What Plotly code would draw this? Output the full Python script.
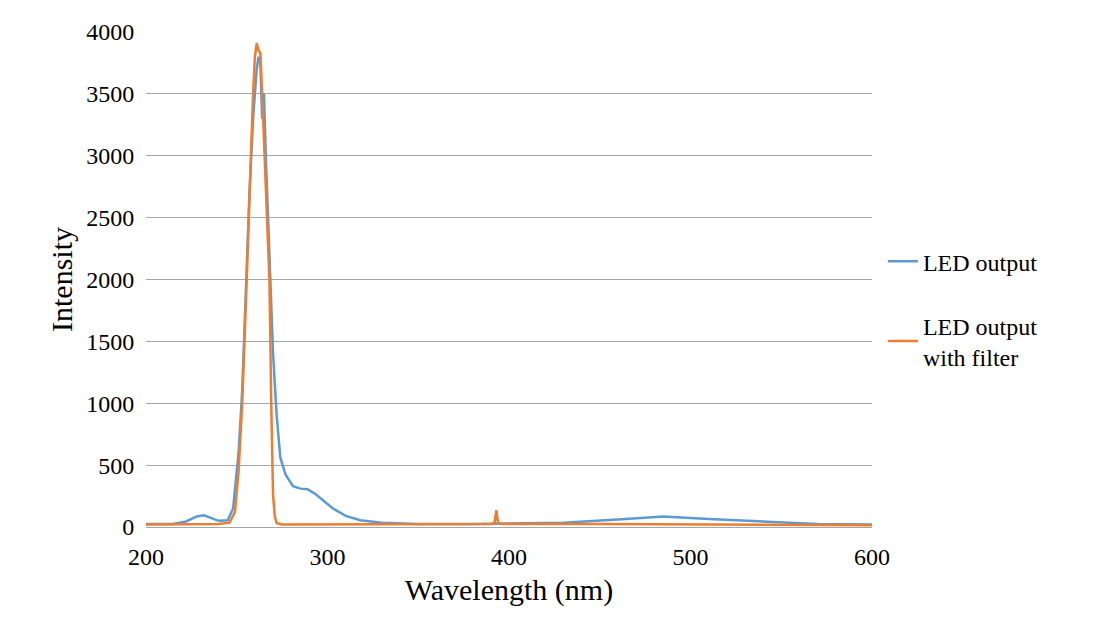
import plotly.graph_objects as go

# LED output (blue)
wl_led = [200, 215, 222, 228, 232, 236, 240, 245, 248, 251, 253, 255, 257, 259, 261, 262, 263, 264, 265, 266,
          268, 270, 272, 274, 277, 281, 285, 289, 293, 298, 303, 310, 318, 330, 350, 380, 400, 430, 460, 485,
          510, 540, 570, 600]
int_led = [25, 25, 45, 85, 95, 70, 50, 55, 150, 600, 1100, 1900, 2700, 3300, 3700, 3800, 3750, 3300, 3500, 3000,
           2200, 1400, 900, 560, 420, 330, 310, 305, 270, 210, 150, 90, 55, 35, 25, 25, 30, 35, 60, 85,
           65, 45, 25, 20]

# LED output with filter (orange)
wl_filt = [200, 220, 240, 246, 249, 251, 253, 255, 257, 259, 260, 261, 262, 263, 264, 266, 268, 269, 270, 271,
           272, 275, 300, 350, 390, 392, 393, 394, 396, 450, 500, 550, 600]
int_filt = [20, 22, 25, 35, 120, 450, 1000, 1800, 2700, 3500, 3800, 3910, 3850, 3830, 3500, 2800, 2000, 1000, 260, 80,
            30, 20, 20, 20, 25, 30, 135, 30, 25, 25, 20, 20, 15]

fig = go.Figure()
fig.add_trace(go.Scatter(x=wl_led, y=int_led, mode="lines", name="LED output", legendgroup="a",
                         line=dict(color="#5b9bd5", width=2.5)))
fig.add_trace(go.Scatter(x=wl_filt, y=int_filt, mode="lines", name="LED output<br>with filter", legendgroup="b",
                         line=dict(color="#ed7d31", width=2.5)))

font = "Times New Roman, Liberation Serif, serif"
tickfont = dict(family=font, size=24, color="black")
fig.update_layout(
    width=1109, height=629,
    margin=dict(l=138, r=245, t=24, b=110, autoexpand=False),
    plot_bgcolor="white", paper_bgcolor="white",
    font=dict(family=font, size=24, color="black"),
    legend=dict(x=1.015, y=0.44, yanchor="middle", font=dict(family=font, size=24), tracegroupgap=30),
    xaxis=dict(range=[200, 600], dtick=100, showgrid=False, showline=True, linecolor="#a6a6a6",
               ticks="outside", ticklen=8, tickcolor="white", automargin=False, tickfont=tickfont,
               title=dict(text="Wavelength (nm)", font=dict(family=font, size=30), standoff=10)),
    yaxis=dict(range=[0, 4000], dtick=500, gridcolor="#a6a6a6", showline=False, zeroline=False,
               ticks="outside", ticklen=6, tickcolor="white", automargin=False, tickfont=tickfont,
               title=dict(text="Intensity", font=dict(family=font, size=30), standoff=4)),
)

fig.write_html("out.html")
